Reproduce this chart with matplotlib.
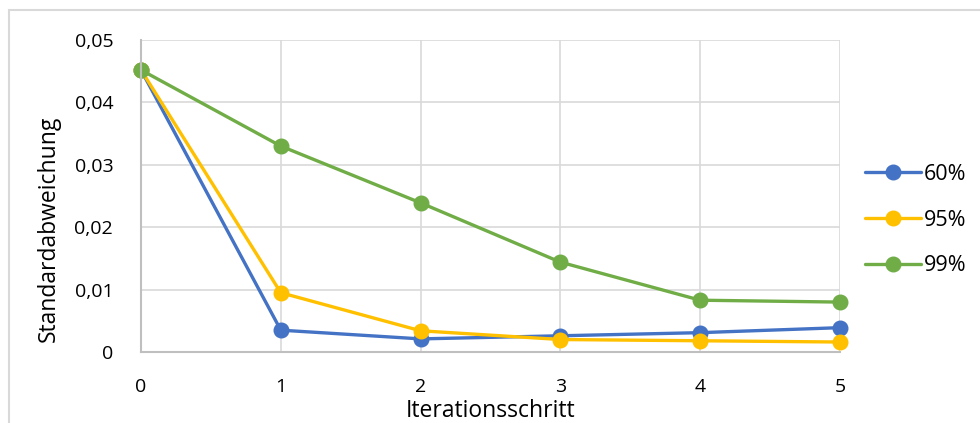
import matplotlib
matplotlib.use("Agg")
import matplotlib.pyplot as plt
from matplotlib.patches import Rectangle

plt.rcParams["font.family"] = ["Open Sans", "DejaVu Sans"]

# ---- data ----
steps = [0, 1, 2, 3, 4, 5]
s60 = [0.0452, 0.0035, 0.0021, 0.0026, 0.0031, 0.0039]
s95 = [0.0452, 0.0095, 0.0034, 0.0020, 0.0018, 0.0016]
s99 = [0.0452, 0.0330, 0.0239, 0.0144, 0.0083, 0.0080]
series_labels = ["60%", "95%", "99%"]
colors = ["#4472C4", "#FFC000", "#70AD47"]
yticks = [0, 0.01, 0.02, 0.03, 0.04, 0.05]
ytick_labels = ["0", "0,01", "0,02", "0,03", "0,04", "0,05"]

fig = plt.figure(figsize=(9.8, 4.23), dpi=100)
# outer chart border (cut off at right/bottom like the screenshot)
fig.patches.append(Rectangle((9 / 980, -0.1), 1.2, 1 - 10.5 / 423 + 0.1,
                             transform=fig.transFigure, fill=False,
                             edgecolor="#D9D9D9", lw=1.5))

ax = fig.add_axes([141 / 980, 1 - 352 / 423, 699 / 980, 312 / 423])

for ys, lab, c in zip([s60, s95, s99], series_labels, colors):
    ax.plot(steps, ys, color=c, lw=2.4, marker="o", ms=10.5, label=lab,
            solid_capstyle="round", clip_on=False)

ax.set_xlim(0, 5)
ax.set_ylim(0, 0.05)
ax.set_xticks(steps)
ax.set_yticks(yticks)
ax.set_yticklabels(ytick_labels)
ax.tick_params(length=0, labelsize=14, colors="#000000")
ax.tick_params(axis="y", pad=20)
ax.tick_params(axis="x", pad=19)
ax.grid(True, color="#D9D9D9", lw=1.2)
ax.set_axisbelow(True)
for side in ["top", "right"]:
    ax.spines[side].set_visible(False)
for side in ["left", "bottom"]:
    ax.spines[side].set_color("#BFBFBF")
    ax.spines[side].set_linewidth(1.5)

ax.set_ylabel("Standardabweichung", fontsize=16.5)
ax.set_xlabel("Iterationsschritt", fontsize=16.5, labelpad=2)
ax.yaxis.set_label_coords(-80 / 699, (352 - 229) / 312)

ax.legend(loc="center left", bbox_to_anchor=(865 / 980, 1 - 220 / 423),
          bbox_transform=fig.transFigure, frameon=False, fontsize=15.5,
          handlelength=2.6, handletextpad=0.15, labelspacing=1.15,
          borderaxespad=0, borderpad=0)

fig.savefig("out.png", dpi=100)
